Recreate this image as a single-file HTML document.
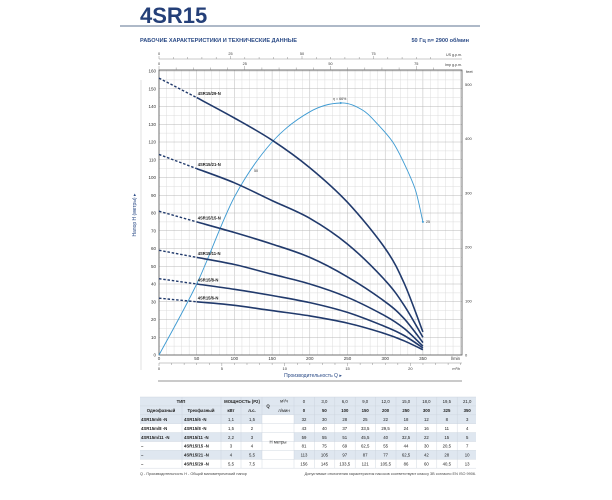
<!DOCTYPE html>
<html><head><meta charset="utf-8">
<style>
html,body{margin:0;padding:0;background:#fff;}
body{width:612px;height:500px;overflow:hidden;position:relative;font-family:"Liberation Sans","Noto Sans CJK SC",sans-serif;}
svg{position:absolute;left:0;top:0;}
text{font-family:"Liberation Sans",sans-serif;}
</style></head><body>
<svg id="s" width="612" height="500" viewBox="0 0 612 500" xmlns="http://www.w3.org/2000/svg">
<text x="140" y="23" font-size="22" font-weight="bold" fill="#243f78">4SR15</text>
<line x1="120" y1="26" x2="480" y2="26" stroke="#7d8fa8" stroke-width="1.2"/>
<text x="140" y="42" font-size="5.6" font-weight="bold" fill="#2a4a86">РАБОЧИЕ ХАРАКТЕРИСТИКИ И ТЕХНИЧЕСКИЕ ДАННЫЕ</text>
<text x="469" y="42" font-size="5.6" font-weight="bold" fill="#2a4a86" text-anchor="end">50 Гц    n= 2900 об/мин</text>
<g id="g"></g>
</svg>
<script>
var g=document.getElementById('g'),h='';
function X(q){return 159+0.754*q;}
function Y(m){return 355-1.775*m;}
for(var q=0;q<=400;q+=10){var x=X(q);if(x>462)break;h+='<line x1="'+x+'" y1="70" x2="'+x+'" y2="355" stroke="'+(q%50==0?'#b8b8b8':'#dcdcdc')+'" stroke-width="0.5"/>';}
for(var m=0;m<=160;m+=5){var y=Y(m);h+='<line x1="159" y1="'+y+'" x2="462" y2="'+y+'" stroke="'+(m%10==0?'#b8b8b8':'#dcdcdc')+'" stroke-width="0.5"/>';
 if(m%10==0)h+='<text x="156" y="'+(y+1.6)+'" font-size="4.5" text-anchor="end" fill="#333">'+m+'</text>';}
h+='<rect x="159" y="70" width="303" height="285" fill="none" stroke="#555" stroke-width="0.8"/>';
for(var f=0;f<=500;f+=100){var y=355-f*0.3048*1.775;h+='<text x="465" y="'+(y+1.6)+'" font-size="4" fill="#333">'+f+'</text>';}
h+='<text x="466" y="73" font-size="4" fill="#333">feet</text>';
for(var q=0;q<=350;q+=50)h+='<text x="'+X(q)+'" y="360" font-size="4.5" text-anchor="middle" fill="#333">'+q+'</text>';
h+='<text x="460" y="360" font-size="4.3" text-anchor="end" fill="#333">l/min</text>';
h+='<line x1="159" y1="363" x2="462" y2="363" stroke="#777" stroke-width="0.4"/>';
for(var v=0;v<=24;v++){var x=159+12.57*v;if(x>462)break;h+='<line x1="'+x+'" y1="363" x2="'+x+'" y2="'+(v%5==0?366:365)+'" stroke="#777" stroke-width="0.4"/>';if(v%5==0)h+='<text x="'+x+'" y="370" font-size="4" text-anchor="middle" fill="#333">'+v+'</text>';}
h+='<text x="460" y="370" font-size="3.8" text-anchor="end" fill="#333">m³/h</text>';
h+='<text x="313" y="377" font-size="5" text-anchor="middle" fill="#2a4a86">Производительность Q ▸</text>';
h+='<line x1="158" y1="381" x2="462" y2="381" stroke="#aaa" stroke-width="1.2"/>';
h+='<line x1="141" y1="80" x2="141" y2="370" stroke="#ccc" stroke-width="0.6"/>';
h+='<line x1="159" y1="59" x2="462" y2="59" stroke="#777" stroke-width="0.4"/>';
for(var v=0;v<=100;v+=5){var x=159+2.86*v;if(x>440)break;h+='<line x1="'+x+'" y1="59" x2="'+x+'" y2="'+(v%25==0?56:57)+'" stroke="#777" stroke-width="0.4"/>';if(v%25==0)h+='<text x="'+x+'" y="55" font-size="3.8" text-anchor="middle" fill="#333">'+v+'</text>';}
h+='<text x="462" y="56" font-size="3.6" text-anchor="end" fill="#333">US g.p.m.</text>';
for(var v=0;v<=85;v+=5){var x=159+3.43*v;if(x>440)break;h+='<line x1="'+x+'" y1="70" x2="'+x+'" y2="'+(v%25==0?66:67.5)+'" stroke="#777" stroke-width="0.4"/>';if(v%25==0)h+='<text x="'+x+'" y="65" font-size="3.8" text-anchor="middle" fill="#333">'+v+'</text>';}
h+='<text x="462" y="66" font-size="3.6" text-anchor="end" fill="#333">Imp g.p.m.</text>';
h+='<text transform="translate(136,215) rotate(-90)" font-size="5" text-anchor="middle" fill="#2a4a86">Напор H (метры) ▸</text>';
function cr(p){var d='M'+p[0][0].toFixed(1)+','+p[0][1].toFixed(1);for(var i=0;i<p.length-1;i++){var a=p[i-1]||p[i],b=p[i],c=p[i+1],e=p[i+2]||c;d+=' C'+(b[0]+(c[0]-a[0])/6).toFixed(1)+','+(b[1]+(c[1]-a[1])/6).toFixed(1)+' '+(c[0]-(e[0]-b[0])/6).toFixed(1)+','+(c[1]-(e[1]-b[1])/6).toFixed(1)+' '+c[0].toFixed(1)+','+c[1].toFixed(1);}return d;}
var ep=[[0,0],[50,40],[100,89],[150,120],[200,137],[241,142],[270,138],[290,130],[310,120],[325,108],[340,93],[350,75]].map(function(a){return[X(a[0]),Y(a[1])];});
h+='<path d="'+cr(ep)+'" fill="none" stroke="#3d9ad2" stroke-width="0.9"/>';
h+='<circle cx="'+X(241)+'" cy="'+Y(142)+'" r="1" fill="#3d9ad2"/><text x="'+(X(241)-1)+'" y="'+(Y(142)-3)+'" font-size="3.6" text-anchor="middle" fill="#333">η = 66%</text>';
h+='<text x="254" y="172" font-size="3.6" fill="#333">50</text><circle cx="'+X(350)+'" cy="'+Y(75)+'" r="1" fill="#3d9ad2"/><text x="426" y="223" font-size="3.6" fill="#333">25</text>';
var Qs=[0,50,100,150,200,250,300,325,350];
var P=[['4SR15/6-N',[32,30,28,25,22,18,12,8,3]],['4SR15/8-N',[43,40,37,33.5,29.5,24,16,11,4]],['4SR15/11-N',[59,55,51,45.5,40,32.5,22,15,5]],['4SR15/15-N',[81,75,69,62.5,55,44,30,20.5,7]],['4SR15/21-N',[113,105,97,87,77,62.5,42,28,10]],['4SR15/29-N',[156,145,133.5,121,105.5,86,60,40.5,13]]];
P.forEach(function(p){var v=p[1];var pts=[];for(var i=1;i<9;i++)pts.push([X(Qs[i]),Y(v[i])]);
h+='<line x1="'+X(0)+'" y1="'+Y(v[0])+'" x2="'+X(50)+'" y2="'+Y(v[1])+'" stroke="#213a6c" stroke-width="1.4" stroke-dasharray="2.5,1.8"/>';
h+='<path d="'+cr(pts)+'" fill="none" stroke="#213a6c" stroke-width="1.6"/>';
h+='<text x="'+(X(50)+1)+'" y="'+(Y(v[1])-2.5)+'" font-size="4.2" fill="#222" font-weight="bold">'+p[0]+'</text>';});
var ty=397,rh=8.9;
var rowsBg=['#dfe7f0','#dfe7f0','#dfe7f0','#fff','#dfe7f0','#fff','#dfe7f0','#fff'];
for(var r=0;r<8;r++)h+='<rect x="140" y="'+(ty+r*rh)+'" width="336" height="'+rh+'" fill="'+rowsBg[r]+'"/>';
h+='<rect x="262" y="'+(ty+2*rh)+'" width="32" height="'+6*rh+'" fill="#fff"/>';
for(var r=0;r<=8;r++)h+='<line x1="140" y1="'+(ty+r*rh)+'" x2="476" y2="'+(ty+r*rh)+'" stroke="#c8d0da" stroke-width="0.4"/>';
[182,221,241,262,294].forEach(function(x){h+='<line x1="'+x+'" y1="'+ty+'" x2="'+x+'" y2="'+(ty+8*rh)+'" stroke="#c8d0da" stroke-width="0.4"/>';});
for(var c=1;c<9;c++){var x=294+20.4*c;h+='<line x1="'+x+'" y1="'+ty+'" x2="'+x+'" y2="'+(ty+8*rh)+'" stroke="#c8d0da" stroke-width="0.4"/>';}
function T(x,y,s,a,b){h+='<text x="'+x+'" y="'+y+'" font-size="4.3" text-anchor="'+(a||'middle')+'" fill="#222"'+(b?' font-weight="bold"':'')+'>'+s+'</text>';}
var b1=ty+rh*0.7;T(181,b1,'ТИП','middle',1);T(242,b1,'МОЩНОСТЬ (P2)','middle',1);T(268,ty+rh+1.5,'Q','middle',1);T(284,b1-0.5,'м³/ч');
var b2=ty+rh*1.7;T(161,b2,'Однофазный','middle',1);T(201,b2,'Трехфазный','middle',1);T(231,b2,'кВт','middle',1);T(252,b2,'л.с.','middle',1);T(284,b2,'л/мин');
var m3=['0','3,0','6,0','9,0','12,0','15,0','18,0','19,5','21,0'];
for(var c=0;c<9;c++){T(304+20.4*c,b1,m3[c]);T(304+20.4*c,b2,Qs[c],'middle',1);}
var one=['4SR15m/6  -N','4SR15m/8  -N','4SR15m/11 -N','–','–','–'],three=['4SR15/6  -N','4SR15/8  -N','4SR15/11 -N','4SR15/15 -N','4SR15/21 -N','4SR15/29 -N'],kw=['1,1','1,5','2,2','3','4','5,5'],hp=['1,5','2','3','4','5,5','7,5'];
P.forEach(function(p,i){var y=ty+rh*(2.7+i);T(141,y,one[i],'start',1);T(184,y,three[i],'start',1);T(231,y,kw[i]);T(252,y,hp[i]);
 p[1].forEach(function(v,c){T(304+20.4*c,y,String(v).replace('.',','));});});
T(278,ty+rh*5.2,'H  метры');
h+='<text x="140" y="475" font-size="3.8" fill="#444">Q - Производительность   H - Общий манометрический напор</text>';
h+='<text x="476" y="475" font-size="3.8" fill="#444" text-anchor="end">Допустимые отклонения характеристик насосов соответствуют классу 3B согласно EN ISO 9906.</text>';
g.innerHTML=h;
</script>
</body></html>
